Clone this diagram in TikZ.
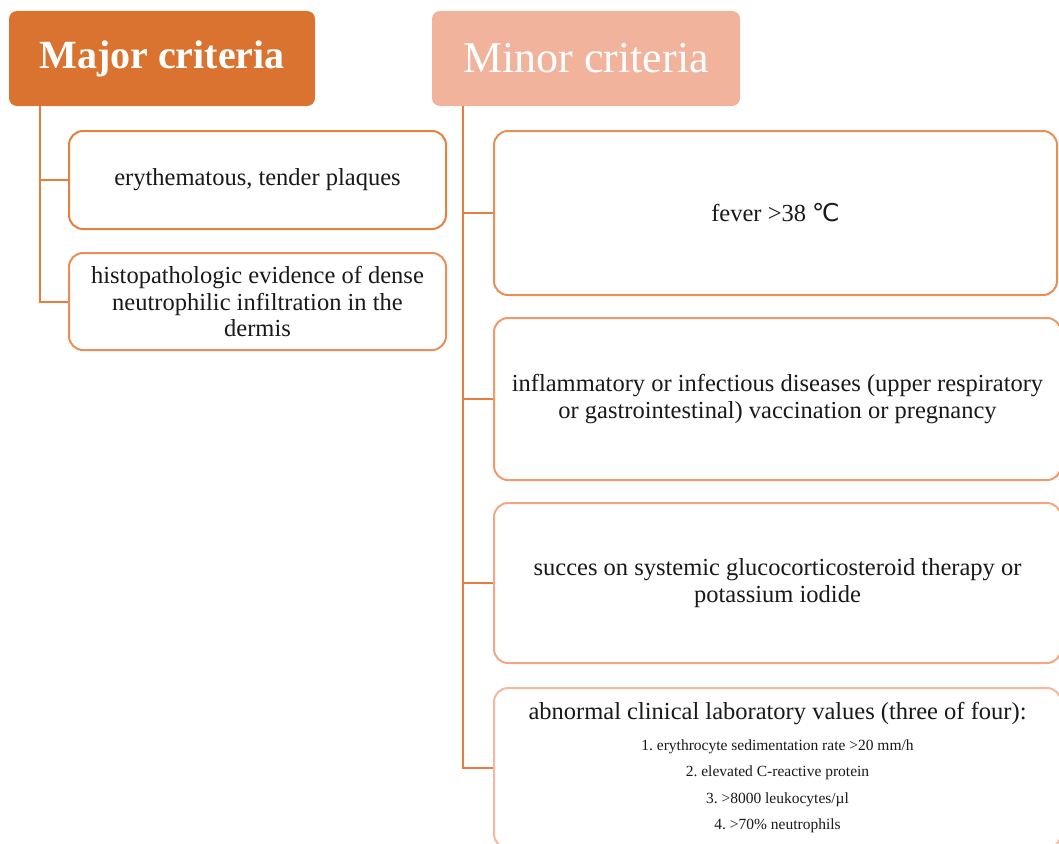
\documentclass[tikz,border=0pt]{standalone}
\usepackage{fontspec}
\setmainfont{Liberation Serif}
\newfontfamily\symfont{DejaVu Sans}
\definecolor{majfill}{HTML}{D9732F}
\definecolor{minfill}{HTML}{F2B39C}
\definecolor{linkcol}{HTML}{E87D3E}
\definecolor{bord1}{HTML}{E4813F}
\definecolor{bord2}{HTML}{EA8E58}
\definecolor{bord3}{HTML}{EE9A6C}
\definecolor{bord4}{HTML}{F1A785}
\definecolor{bord5}{HTML}{F4B89F}
\newcommand{\listsize}{\fontsize{15.5}{27}\selectfont}
\tikzset{
  header/.style={rectangle, rounded corners=8pt, inner sep=0pt, text=white,
    minimum height=95pt},
  critbox/.style={rectangle, rounded corners=14pt, draw, line width=2pt, fill=white,
    inner sep=0pt, align=center, text=black!90, font=\fontsize{24.5}{26.5}\selectfont},
  link/.style={linkcol, line width=2pt}
}
\begin{document}
\frenchspacing
\begin{tikzpicture}[x=1pt,y=-1pt]
\useasboundingbox (0,0) rectangle (1059,843);

% les deux titres
\node[header, fill=majfill, minimum width=306pt, font=\fontsize{40}{44}\selectfont\bfseries] (maj) at (162,58.5) {Major criteria};
\node[header, fill=minfill, minimum width=308pt, font=\fontsize{44}{48}\selectfont] (mino) at (586,58.5) {Minor criteria};

% criteres majeurs
\node[critbox, draw=bord1, minimum width=377pt, minimum height=98pt] (m1) at (257.5,180) {erythematous, tender plaques};
\node[critbox, draw=bord2, minimum width=377pt, minimum height=97pt] (m2) at (257.5,301.5)
  {histopathologic evidence of dense\\ neutrophilic infiltration in the\\ dermis};

% criteres mineurs
\node[critbox, draw=bord2, minimum width=563pt, minimum height=164pt] (n1) at (775.5,213) {fever >38 {\symfont ℃}};
\node[critbox, draw=bord3, minimum width=567pt, minimum height=162pt] (n2) at (777.5,399)
  {inflammatory or infectious diseases (upper respiratory\\ or gastrointestinal) vaccination or pregnancy};
\node[critbox, draw=bord4, minimum width=567pt, minimum height=160pt] (n3) at (777.5,583)
  {succes on systemic glucocorticosteroid therapy or\\ potassium iodide};
\node[critbox, draw=bord5, minimum width=567pt, minimum height=160pt] (n4) at (777.5,768)
  {abnormal clinical laboratory values (three of four):\\[4pt]
   \listsize 1. erythrocyte sedimentation rate >20 mm/h\\
   \listsize 2. elevated C-reactive protein\\
   \listsize 3. >8000 leukocytes/µl\\
   \listsize 4. >70\% neutrophils};

% les traits de liaison
\foreach \b in {m1,m2}
  \draw[link] ([xshift=31pt]maj.south west) |- (\b.west);
\foreach \b in {n1,n2,n3,n4}
  \draw[link] ([xshift=31pt]mino.south west) |- (\b.west);
\end{tikzpicture}
\end{document}
